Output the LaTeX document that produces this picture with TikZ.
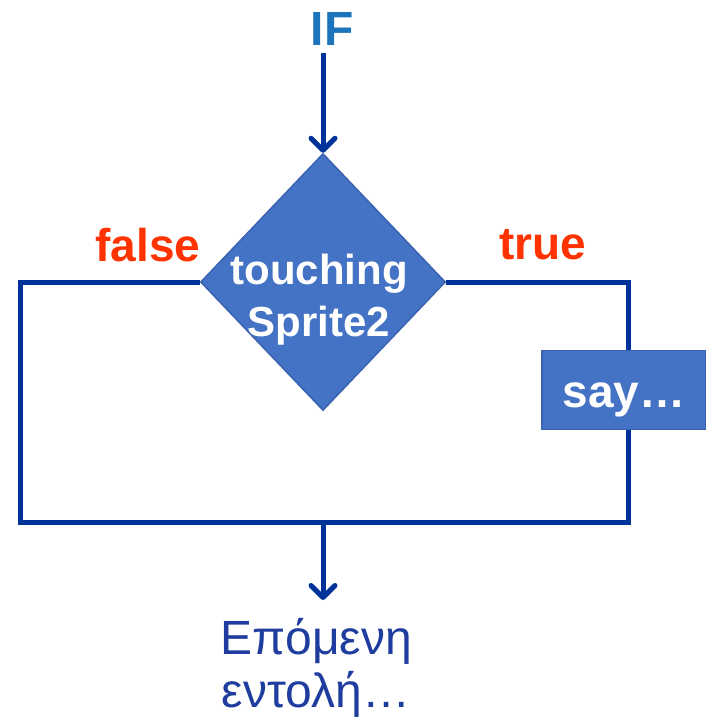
\documentclass[tikz,border=0pt]{standalone}
\usepackage{fontspec}
\setmainfont{Liberation Sans}
\usetikzlibrary{shapes.geometric,arrows.meta}
\definecolor{flowline}{HTML}{003399}
\definecolor{boxfill}{HTML}{4472C4}
\definecolor{boxedge}{HTML}{3A62B0}
\definecolor{ifblue}{HTML}{1C75BC}
\definecolor{labelred}{HTML}{FF3300}
\definecolor{nexttext}{HTML}{1F3D9F}
\tikzset{
  flow/.style={draw=flowline, line width=5pt, line join=miter},
  flowarrow/.style={flow, -{Straight Barb[length=12pt,width=24pt,round]}},
  condbox/.style={diamond, fill=boxfill, draw=boxedge, line width=1.5pt,
    minimum width=245pt, minimum height=257pt, inner sep=0pt, aspect=0.95},
  actbox/.style={rectangle, fill=boxfill, draw=boxedge, line width=1.5pt,
    minimum width=164pt, minimum height=79pt, inner sep=0pt,
    text height=34pt, text depth=0pt,
    text=white, font=\bfseries\fontsize{46}{52}\selectfont},
  branchlabel/.style={text=labelred, font=\bfseries\fontsize{46}{52}\selectfont, inner sep=0pt}
}
\begin{document}
\begin{tikzpicture}[x=1pt,y=-1pt]
\useasboundingbox (0,0) rectangle (706,721);

% heading
\node[anchor=base, inner sep=8pt, text=ifblue, font=\bfseries\fontsize{48}{52}\selectfont] (if) at (332,45) {IF};

% decision
\node[condbox] (cond) at (323,282) {};
\node[align=center, text=white, inner sep=0pt,
      font=\bfseries\fontsize{42}{52}\selectfont] (condtext) at (319,300) {touching\\Sprite2};

% branch labels
\node[branchlabel] (flabel) at (148,245) {false};
\node[branchlabel] (tlabel) at (543,245) {true};

% action on the true branch
\node[actbox] (say) at (624,390) {say…};

% next statement
\node[anchor=north, align=center, inner sep=0pt, text=nexttext,
      font=\fontsize{48}{53}\selectfont] (next) at (316,618) {Επόμενη\\εντολή…};

% corner points of the branches
\coordinate (fl) at (20,282);
\coordinate (fb) at (20,522);
\coordinate (tr) at (628,282);
\coordinate (tb) at (628,522);
\coordinate (join) at (323,522);
\coordinate (nexttop) at (323,600);

% connectors
\draw[flowarrow] (cond.north |- if.south) -- (cond.north);
\draw[flow] (cond.west) -- (fl) -- (fb) -- (join);
\draw[flow] (cond.east) -- (tr) -- (tr |- say.north);
\draw[flow] (tr |- say.south) -- (tb) -- (join);
\draw[flowarrow] (join) -- (nexttop);
\end{tikzpicture}
\end{document}
